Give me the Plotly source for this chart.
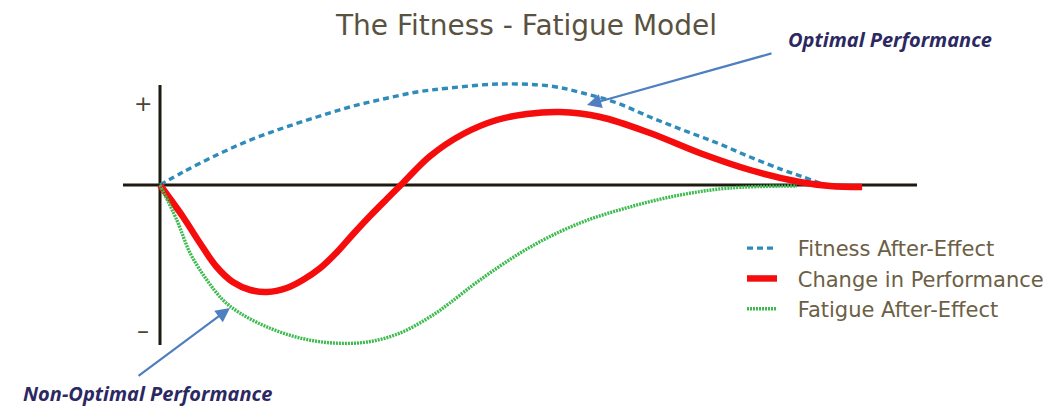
import plotly.graph_objects as go

W, H = 1056, 408

# ---- data (time units, effect units) ----
fit_t = [0, 3.3, 8.1, 12.9, 17.6, 22.4, 27.1, 31.9, 36.7, 41.4, 48.6, 55.7, 60.4, 65.3, 70, 74.7, 79.6, 84.3, 89, 91.9, 94.6]
fit_v = [0, 0.13, 0.30, 0.45, 0.57, 0.68, 0.78, 0.86, 0.93, 0.97, 1.01, 0.99, 0.92, 0.82, 0.68, 0.55, 0.42, 0.28, 0.15, 0.08, 0.01]

perf_t = [0, 3.3, 5.7, 8.1, 10.4, 12.9, 15.3, 18.1, 20.4, 22.9, 25.3, 27.6, 30, 32.4, 34.7, 38.6, 43.3, 48.1, 52.4, 57.1, 62.9, 70, 77.1, 84.3, 91.4, 95.7, 100.3]
perf_v = [0, -0.32, -0.58, -0.82, -0.97, -1.05, -1.07, -1.03, -0.95, -0.83, -0.67, -0.49, -0.31, -0.14, 0.02, 0.29, 0.51, 0.65, 0.71, 0.73, 0.68, 0.52, 0.32, 0.15, 0.03, -0.01, -0.02]

fat_t = [0, 2.4, 4.3, 6.7, 9, 11.4, 15.3, 20, 24.7, 29.6, 34.3, 39, 41.4, 45.7, 52.9, 60, 67.1, 74.3, 81.4, 91]
fat_v = [0, -0.35, -0.68, -0.95, -1.15, -1.28, -1.42, -1.53, -1.58, -1.57, -1.48, -1.30, -1.18, -0.95, -0.62, -0.38, -0.22, -0.10, -0.03, -0.01]

names = ["Fitness After-Effect", "Change in Performance", "Fatigue After-Effect"]
title = "The Fitness - Fatigue Model"
note_opt = "Optimal Performance"
note_non = "Non-Optimal Performance"

# pixel scale helpers (layout only)
X0, PX_T = 160, 7.0      # pixel of t=0, px per time unit
Y0, PX_V = 185, 100.0    # pixel of v=0, px per effect unit

pad = "\u2002\u2005"  # gap between legend sample and its text

fig = go.Figure()
fig.add_trace(go.Scatter(x=fit_t, y=fit_v, mode="lines", name=pad + names[0], line_shape="spline",
                         line=dict(color="#2f8cba", width=3.4, dash="6px,4px")))
fig.add_trace(go.Scatter(x=perf_t, y=perf_v, mode="lines", name=pad + names[1], line_shape="spline",
                         line=dict(color="#f50c0c", width=6.5)))
fig.add_trace(go.Scatter(x=fat_t, y=fat_v, mode="lines", name=pad + names[2], line_shape="spline",
                         line=dict(color="#3dbb4f", width=3.4, dash="2px,1px")))

xr = [-X0 / PX_T, (W - X0) / PX_T]
yr = [(Y0 - H) / PX_V, Y0 / PX_V]

axis_col = "#1e1a10"
fig.add_shape(type="line", xref="x", yref="y", x0=(123 - X0) / PX_T, x1=(917 - X0) / PX_T, y0=0, y1=0,
              line=dict(color=axis_col, width=3), layer="below")
fig.add_shape(type="line", xref="x", yref="y", x0=0, x1=0, y0=(Y0 - 85) / PX_V, y1=(Y0 - 345) / PX_V,
              line=dict(color=axis_col, width=3), layer="below")


def label(px, py, text, size, color, family="DejaVu Sans"):
    return dict(x=px / W, y=1 - py / H, xref="paper", yref="paper", text=text, showarrow=False,
                xanchor="center", yanchor="middle", font=dict(family=family, size=size, color=color))


ann = [
    label(526, 25, title, 28, "#5a5240"),
    label(143, 103, "+", 22, "#4a4535"),
    label(143, 331, "\u2013", 24, "#4a4535"),
    label(890, 40, "<b><i>%s</i></b>" % note_opt, 20, "#2b2862", "Open Sans"),
]
non = label(147, 0, "<b><i>%s</i></b>" % note_non, 20, "#2b2862", "Open Sans")
non.update(y=0, yanchor="bottom", borderpad=0)
ann.append(non)
# arrows
ann.append(dict(x=(587 - X0) / PX_T, y=(Y0 - 105) / PX_V, xref="x", yref="y", text="", showarrow=True,
                ax=186, ay=-52, arrowhead=2, arrowsize=1.3, arrowwidth=2.2, arrowcolor="#4f7fc0"))
ann.append(dict(x=(230 - X0) / PX_T, y=(Y0 - 308) / PX_V, xref="x", yref="y", text="", showarrow=True,
                ax=-93, ay=69, arrowhead=2, arrowsize=1.3, arrowwidth=2.2, arrowcolor="#4f7fc0"))

fig.update_layout(
    width=W, height=H, margin=dict(l=0, r=0, t=0, b=0),
    paper_bgcolor="white", plot_bgcolor="white",
    xaxis=dict(range=xr, visible=False, fixedrange=True),
    yaxis=dict(range=yr, visible=False, fixedrange=True),
    showlegend=True,
    legend=dict(x=742 / W, y=1 - 228 / H, xanchor="left", yanchor="top", bgcolor="rgba(0,0,0,0)",
                font=dict(family="DejaVu Sans", size=21, color="#6b6045"), tracegroupgap=4,
                itemwidth=30),
    annotations=ann,
)

fig.write_html("out.html")
